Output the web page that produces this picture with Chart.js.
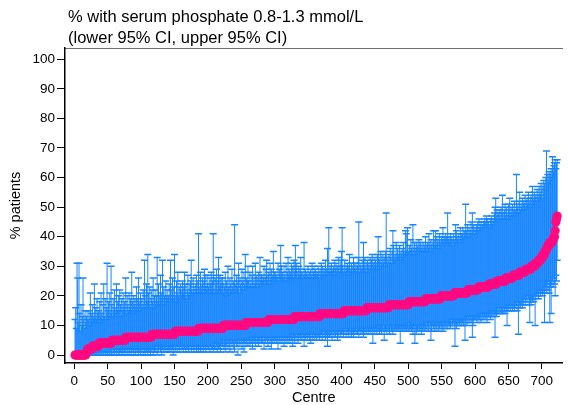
<!DOCTYPE html>
<html><head><meta charset="utf-8">
<script src="https://cdn.jsdelivr.net/npm/chart.js@4.4.1/dist/chart.umd.min.js"></script>
<style>html,body{margin:0;padding:0;background:#fff}canvas{display:block}</style>
</head><body>
<canvas id="c" width="568" height="405"></canvas>
<script>
const titleLines = ["% with serum phosphate 0.8-1.3 mmol/L", "(lower 95% CI, upper 95% CI)"];
const xTitle = "Centre";
const yTitle = "% patients";
const yTicks = [0,10,20,30,40,50,60,70,80,90,100];
const xTicks = [0,50,100,150,200,250,300,350,400,450,500,550,600,650,700];

// % patients per centre, sorted (centre rank 1..N)
const pct = [
0,0,0,0,0,0,0,0,0,0,0,0,0,0,0,0,0,1,1,2,
2,2,2,2,2,2,3,3,3,3,3,3,3,3,3,3,4,4,4,4,
4,4,4,4,4,4,4,4,4,4,4,4,4,4,4,5,5,5,5,5,
5,5,5,5,5,5,5,5,5,5,5,5,5,5,5,5,6,6,6,6,
6,6,6,6,6,6,6,6,6,6,6,6,6,6,6,6,6,6,6,6,
6,6,6,6,6,6,6,6,6,6,6,6,6,6,6,7,7,7,7,7,
7,7,7,7,7,7,7,7,7,7,7,7,7,7,7,7,7,7,7,7,
7,7,7,7,7,7,7,7,7,7,8,8,8,8,8,8,8,8,8,8,
8,8,8,8,8,8,8,8,8,8,8,8,8,8,8,8,8,8,8,8,
8,8,8,8,8,9,9,9,9,9,9,9,9,9,9,9,9,9,9,9,
9,9,9,9,9,9,9,9,9,9,9,9,9,9,9,9,9,9,9,9,
9,9,10,10,10,10,10,10,10,10,10,10,10,10,10,10,10,10,10,10,
10,10,10,10,10,10,10,10,10,10,10,10,10,10,10,10,11,11,11,11,
11,11,11,11,11,11,11,11,11,11,11,11,11,11,11,11,11,11,11,11,
11,11,11,11,11,11,11,11,11,11,12,12,12,12,12,12,12,12,12,12,
12,12,12,12,12,12,12,12,12,12,12,12,12,12,12,12,12,12,12,12,
12,12,12,12,12,12,12,12,12,13,13,13,13,13,13,13,13,13,13,13,
13,13,13,13,13,13,13,13,13,13,13,13,13,13,13,13,13,13,13,13,
13,13,13,13,13,13,13,14,14,14,14,14,14,14,14,14,14,14,14,14,
14,14,14,14,14,14,14,14,14,14,14,14,14,14,14,14,14,14,14,14,
14,14,14,15,15,15,15,15,15,15,15,15,15,15,15,15,15,15,15,15,
15,15,15,15,15,15,15,15,15,15,15,15,15,15,15,15,15,16,16,16,
16,16,16,16,16,16,16,16,16,16,16,16,16,16,16,16,16,16,16,16,
16,16,16,16,16,16,16,16,16,16,17,17,17,17,17,17,17,17,17,17,
17,17,17,17,17,17,17,17,17,17,17,17,17,17,17,17,17,17,17,17,
18,18,18,18,18,18,18,18,18,18,18,18,18,18,18,18,18,18,18,18,
18,18,18,18,18,19,19,19,19,19,19,19,19,19,19,19,19,19,19,19,
19,19,19,19,19,19,19,19,20,20,20,20,20,20,20,20,20,20,20,20,
20,20,20,20,20,20,20,20,21,21,21,21,21,21,21,21,21,21,21,21,
21,21,21,21,21,21,21,21,22,22,22,22,22,22,22,22,22,22,22,22,
22,22,22,22,23,23,23,23,23,23,23,23,23,23,23,23,23,23,23,23,
24,24,24,24,24,24,24,24,24,24,24,24,25,25,25,25,25,25,25,25,
25,25,25,25,25,26,26,26,26,26,26,26,26,26,26,26,27,27,27,27,
27,27,27,27,27,27,28,28,28,28,28,28,28,28,28,29,29,29,29,29,
29,29,29,30,30,30,30,30,30,31,31,31,31,31,32,32,32,32,33,33,
33,34,34,34,35,35,36,36,37,37,37,38,38,38,38,39,39,40,40,42,
45,46,47];

// lower 95% CI per centre
const lower = [
0,0,0,0,0,0,0,0,0,0,0,0,0,0,0,0,0,0,0,0,
0,0,0,0,0,0,0,0,0,0,0,0,0,1,0,0,0,1,0,1,
0,1,0,0,1,0,0,1,0,0,1,0,0,1,0,0,2,0,1,0,
1,2,0,1,2,0,1,0,1,2,0,1,0,2,1,0,1,2,0,1,
2,0,1,2,0,1,2,1,0,2,1,0,2,1,1,0,2,1,0,2,
1,2,0,2,1,0,2,1,2,0,1,2,1,0,2,1,2,0,2,1,
2,1,3,0,2,1,2,3,1,2,0,2,3,1,2,2,1,3,2,1,
2,1,3,2,1,3,2,0,2,3,1,2,3,1,2,3,2,1,3,2,
3,2,1,3,2,3,1,2,3,2,1,3,2,3,1,2,3,2,1,3,
2,3,1,3,2,1,3,2,1,3,2,3,1,2,3,2,1,3,2,3,
2,3,1,3,2,3,2,1,3,2,4,2,3,1,3,2,3,2,1,3,
4,3,5,2,3,1,4,3,5,2,4,3,1,4,5,3,4,2,5,1,
4,5,3,4,0,5,4,3,5,4,2,5,4,1,4,5,3,4,5,3,
5,4,3,5,4,6,2,5,4,5,3,4,6,4,5,3,5,4,6,4,
5,4,6,2,5,4,6,5,4,3,5,6,4,5,2,6,4,5,6,4,
5,6,4,5,2,6,5,4,6,5,4,6,5,3,6,5,4,6,5,4,
6,5,4,6,5,7,3,6,5,4,6,5,7,6,4,5,6,7,5,6,
5,7,6,3,6,5,7,6,5,6,7,5,6,4,7,6,5,7,6,5,
6,7,5,6,7,6,5,7,6,7,5,6,8,6,7,5,6,7,3,6,
7,6,8,6,7,5,7,8,6,7,6,8,7,5,7,6,8,7,6,7,
7,8,6,7,8,9,6,7,8,7,6,8,7,9,6,8,7,6,8,7,
8,7,9,7,8,6,8,9,7,8,7,9,6,8,7,9,8,7,9,8,
7,9,8,7,9,8,4,9,8,7,9,8,7,9,8,10,7,8,9,7,
9,8,10,5,9,8,9,7,10,8,9,7,9,10,8,9,7,10,8,9,
9,8,10,9,8,10,9,4,10,9,8,10,9,8,10,9,8,10,9,11,
8,9,9,10,8,9,7,10,9,4,10,7,9,8,10,9,8,10,9,7,
10,8,9,10,8,9,11,9,10,8,9,11,10,5,8,10,11,9,10,8,
10,9,11,10,8,11,9,10,11,9,10,8,11,10,9,11,10,9,11,10,
11,10,9,11,12,10,11,11,10,3,11,9,12,10,11,12,10,11,12,10,
11,12,10,12,5,11,12,10,13,12,11,13,12,11,13,6,10,12,12,13,
12,13,11,13,12,14,12,13,11,14,13,12,14,13,12,14,13,11,14,13,
13,14,12,15,13,14,13,15,14,6,14,13,15,14,16,15,14,16,15,14,
15,14,16,15,14,16,15,10,16,15,17,16,15,17,16,15,17,16,15,17,
16,17,15,18,7,16,17,16,18,17,16,18,17,19,18,17,19,18,20,19,
17,11,18,17,19,18,19,18,20,10,19,20,21,20,19,22,21,20,22,21,
20,22,21,11,22,23,21,24,22,25,21,11,23,14,24,25,23,26,24,20,
27,25,32];

// upper 95% CI per centre
const upper = [
12,16,9,31,26,11,31,14,8,17,10,13,26,12,9,15,11,13,15,12,
12,15,10,21,11,14,17,11,13,24,12,16,12,19,14,15,11,18,13,21,
14,12,17,24,13,19,12,16,31,15,18,13,21,14,30,17,13,19,15,22,
16,14,24,18,15,20,15,22,17,13,19,15,21,16,18,15,26,14,20,17,
15,21,16,19,15,28,18,14,20,17,19,16,23,15,19,26,15,18,21,17,
19,16,22,17,32,20,16,24,18,34,21,17,23,16,19,22,18,26,16,20,
22,17,20,33,18,24,20,17,27,21,19,32,17,23,20,18,25,20,22,19,
20,24,18,32,22,19,26,19,23,34,20,18,25,21,28,20,23,19,24,22,
20,25,21,23,28,20,24,19,22,27,21,24,20,25,32,22,21,26,23,21,
24,22,27,21,25,41,23,21,28,24,22,26,21,25,29,23,27,22,24,27,
23,21,26,24,28,22,25,41,27,21,26,24,29,22,25,33,23,27,24,26,
22,26,21,24,23,28,20,25,22,30,23,21,26,24,22,29,23,25,21,44,
24,22,27,23,25,31,21,26,24,23,29,25,22,28,24,34,23,26,25,30,
25,23,28,24,23,27,30,23,26,24,31,25,27,23,26,28,24,33,25,27,
27,25,26,30,24,26,29,32,25,27,28,24,31,26,29,25,27,35,26,28,
28,26,27,26,31,25,29,27,37,30,26,28,26,30,27,25,31,26,28,33,
27,29,26,28,31,27,30,26,32,28,37,29,31,26,28,30,27,29,33,28,
28,26,27,38,27,29,26,28,27,30,26,28,26,29,27,31,26,28,30,27,
29,27,28,27,30,28,26,29,27,31,28,30,27,29,28,32,27,29,36,28,
43,28,30,28,31,29,28,30,27,32,29,31,28,30,29,33,28,30,32,35,
43,30,28,29,32,28,30,29,31,27,30,34,28,29,31,30,28,33,29,31,
29,31,28,30,33,45,28,31,30,29,32,29,38,30,33,29,31,28,32,30,
31,29,33,30,32,34,29,31,30,33,32,31,29,34,40,33,32,30,35,31,
32,34,31,33,30,35,48,33,31,32,34,31,36,33,31,35,42,37,32,34,
33,38,32,36,34,33,37,32,35,34,36,33,38,34,35,42,41,34,43,35,
35,37,34,39,36,35,44,34,38,36,35,38,36,37,35,39,36,38,37,35,
36,38,35,37,36,40,35,37,38,36,41,37,35,39,37,36,38,42,37,39,
42,37,40,38,36,39,41,38,37,40,39,43,38,40,39,41,40,38,48,39,
40,38,41,39,40,37,39,41,38,39,44,42,40,39,41,40,38,43,39,41,
41,43,40,42,41,51,42,41,44,40,43,41,42,45,41,48,42,44,41,43,
42,44,43,45,42,46,43,44,45,43,44,44,45,46,44,45,47,44,46,45,
44,43,46,45,47,44,46,45,48,50,53,47,49,46,48,47,49,46,50,48,
54,48,46,49,51,47,50,48,46,51,49,53,47,50,48,51,47,49,52,48,
49,61,51,50,48,52,55,49,51,50,53,49,52,51,54,50,52,53,51,55,
52,50,53,54,51,57,53,52,55,53,54,52,56,54,53,57,55,54,58,56,
53,57,59,58,56,60,69,58,61,59,62,60,61,63,60,67,62,64,65,66,
63,65,66];

const FONT = '"Liberation Sans", Arial, Helvetica, sans-serif';
const BLUE = '#1685ff';
const PINK = '#ff0a80';

const rank = pct.map((_, i) => i + 1);
const pointData = rank.map((r, i) => ({x: r, y: pct[i]}));
const hiData = rank.map((r, i) => ({x: r, y: upper[i]}));
const loData = rank.map((r, i) => ({x: r, y: lower[i]}));
const barData = [];
rank.forEach((r, i) => { barData.push({x: r, y: lower[i]}, {x: r, y: upper[i]}, {x: r, y: null}); });

const titlePlugin = {
  id: 'titleText',
  afterDraw(chart) {
    const ctx = chart.ctx;
    ctx.save();
    ctx.font = '16.5px ' + FONT;
    ctx.fillStyle = '#000';
    ctx.textBaseline = 'alphabetic';
    ctx.textAlign = 'left';
    ctx.fillText(titleLines[0], 68, 22);
    ctx.fillText(titleLines[1], 68, 42.5);
    ctx.restore();
  }
};

new Chart(document.getElementById('c'), {
  type: 'scatter',
  data: {
    datasets: [
      { type: 'scatter', data: pointData, xAxisID: 'x', yAxisID: 'y',
        pointRadius: 4.6, pointBackgroundColor: PINK, pointBorderWidth: 0, pointBorderColor: PINK },
      { type: 'scatter', data: hiData, xAxisID: 'x', yAxisID: 'y',
        pointStyle: 'line', pointRadius: 3.5, pointBorderWidth: 1.5, pointBorderColor: BLUE, pointBackgroundColor: BLUE },
      { type: 'scatter', data: loData, xAxisID: 'x', yAxisID: 'y',
        pointStyle: 'line', pointRadius: 3.5, pointBorderWidth: 1.5, pointBorderColor: BLUE, pointBackgroundColor: BLUE },
      { type: 'line', data: barData, xAxisID: 'x', yAxisID: 'y', showLine: true, spanGaps: false,
        borderColor: BLUE, borderWidth: 1, pointRadius: 0, fill: false, tension: 0 }
    ]
  },
  options: {
    responsive: false,
    devicePixelRatio: 1,
    animation: false,
    events: [],
    layout: { padding: 0 },
    plugins: { legend: { display: false }, tooltip: { enabled: false }, title: { display: false } },
    scales: {
      x: {
        type: 'linear', position: 'bottom', min: -14, max: 731,
        afterBuildTicks: s => { s.ticks = xTicks.map(v => ({ value: v })); },
        afterFit: s => { s.height = 42; },
        ticks: { font: { family: FONT, size: 13.5 }, color: '#000', padding: 4, maxRotation: 0, autoSkip: false },
        grid: { display: true, drawOnChartArea: false, drawTicks: true, tickLength: 6, tickColor: '#000', tickWidth: 1, color: '#000' },
        border: { display: true, color: '#000', width: 1.5 },
        title: { display: true, text: xTitle, color: '#000', font: { family: FONT, size: 14.5, lineHeight: 1 }, padding: { top: 0, bottom: 0 } }
      },
      x2: {
        type: 'linear', position: 'top', min: -14, max: 731, display: true,
        afterFit: s => { s.height = 48; },
        ticks: { display: false },
        grid: { display: false },
        border: { display: true, color: '#6e6e6e', width: 1 }
      },
      y: {
        type: 'linear', position: 'left', min: -2.7, max: 103.8,
        afterBuildTicks: s => { s.ticks = yTicks.map(v => ({ value: v })); },
        afterFit: s => { s.width = 65; },
        ticks: { font: { family: FONT, size: 13.5 }, color: '#000', padding: 2, autoSkip: false },
        grid: { display: true, drawOnChartArea: false, drawTicks: true, tickLength: 8, tickColor: '#000', tickWidth: 1, color: '#000' },
        border: { display: true, color: '#000', width: 1.5 },
        title: { display: true, text: yTitle, color: '#000', font: { family: FONT, size: 14.5, lineHeight: 1 }, padding: { top: 9, bottom: 0 } }
      }
    }
  },
  plugins: [titlePlugin]
});
</script>
</body></html>
